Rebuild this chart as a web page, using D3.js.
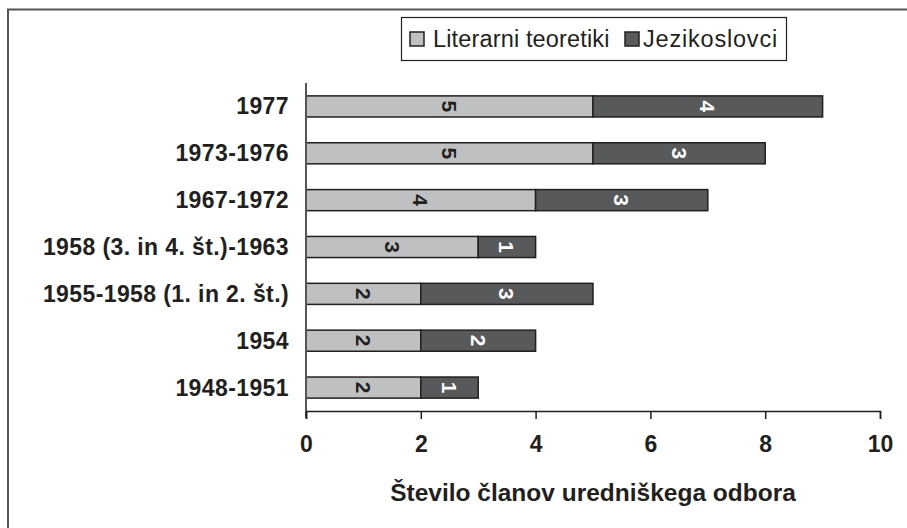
<!DOCTYPE html>
<html><head><meta charset="utf-8">
<script src="https://cdn.jsdelivr.net/npm/d3@7"></script>
<style>body{margin:0;background:#fff}svg{display:block;font-family:"Liberation Sans",Arial,sans-serif}</style>
</head><body><svg id="c" width="907" height="528"></svg>
<script>
const categories = ["1977","1973-1976","1967-1972","1958 (3. in 4. št.)-1963","1955-1958 (1. in 2. št.)","1954","1948-1951"];
const literarni = [5,5,4,3,2,2,2];
const jezikoslovci = [4,3,3,1,3,2,1];
const seriesNames = ["Literarni teoretiki","Jezikoslovci"];
const xTicks = [0,2,4,6,8,10];
const xTitle = "Število članov uredniškega odbora";

const colors = ["#bfc0c2","#58595b"];
const ink = "#231f20";
const svg = d3.select("#c");
svg.append("path").attr("d","M8,528V9.5H907").attr("fill","none").attr("stroke","#555").attr("stroke-width",2);

const x = d3.scaleLinear().domain([0,10]).range([306,880]);
const y = d3.scaleBand().domain(categories).range([83,411]).paddingInner(0.55).paddingOuter(0.275);

const data = categories.map((c,i)=>({c, vals:[literarni[i], jezikoslovci[i]]}));
const g = svg.append("g");
data.forEach(d=>{
  let x0=0;
  d.vals.forEach((v,k)=>{
    g.append("rect").attr("x",x(x0)).attr("y",y(d.c)).attr("width",x(x0+v)-x(x0)).attr("height",y.bandwidth())
      .attr("fill",colors[k]).attr("stroke",ink).attr("stroke-width",1.5);
    const cx=x(x0+v/2), cy=y(d.c)+y.bandwidth()/2;
    g.append("text").attr("transform",`translate(${cx},${cy}) rotate(90)`).attr("text-anchor","middle").attr("dy","0.36em")
      .attr("font-size",21).attr("font-weight","bold").attr("fill",k===0?ink:"#fff").text(v);
    x0+=v;
  });
});
svg.append("line").attr("x1",306).attr("x2",306).attr("y1",83).attr("y2",418).attr("stroke","#555").attr("stroke-width",2);
const xa = svg.append("g").attr("transform","translate(0,411)").call(d3.axisBottom(x).tickValues(xTicks).tickSize(8).tickPadding(17));
xa.select(".domain").attr("stroke",ink).attr("stroke-width",1.5);
xa.selectAll(".tick line").attr("stroke",ink).attr("stroke-width",1.5);
xa.selectAll("text").attr("font-size",23).attr("font-weight","bold").attr("fill",ink).attr("font-family","Liberation Sans, Arial, sans-serif");
categories.forEach(c=>{
  svg.append("text").attr("x",289).attr("y",y(c)+y.bandwidth()/2).attr("dy","0.35em").attr("text-anchor","end")
    .attr("font-size",23).attr("letter-spacing",0.4).attr("font-weight","bold").attr("fill",ink).text(c);
});
svg.append("text").attr("x",593).attr("y",501).attr("text-anchor","middle").attr("font-size",24.5).attr("font-weight","bold").attr("fill",ink).text(xTitle);
const lg = svg.append("g");
lg.append("rect").attr("x",401.5).attr("y",17.5).attr("width",385).attr("height",43).attr("fill","#fff").attr("stroke",ink).attr("stroke-width",1.2);
const lx=[410,625];
const tx=[433,643];
const ls=[0.15,0.8];
seriesNames.forEach((n,k)=>{
  lg.append("rect").attr("x",lx[k]).attr("y",32).attr("width",14).attr("height",14).attr("fill",colors[k]).attr("stroke",ink).attr("stroke-width",1.5);
  lg.append("text").attr("x",tx[k]).attr("y",47).attr("font-size",23.5).attr("letter-spacing",ls[k]).attr("fill",ink).text(n);
});
</script></body></html>
